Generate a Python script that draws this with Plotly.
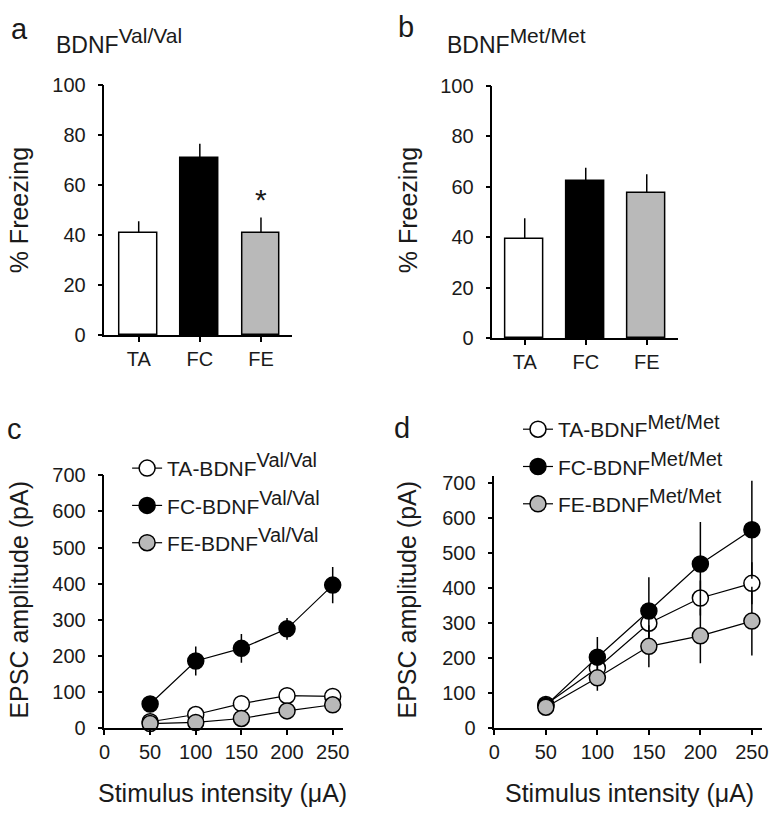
import plotly.graph_objects as go

# ---------------- data ----------------
groups = ["TA", "FC", "FE"]
val_freeze = [41, 71, 41]
val_freeze_sem = [4.5, 5.5, 6]
met_freeze = [39.5, 62.5, 57.5]
met_freeze_sem = [8, 5, 7.5]

stim = [50, 100, 150, 200, 250]
c_ta = [18, 38, 68, 90, 88]
c_ta_err = [5, 8, 10, 10, 8]
c_fc = [67, 186, 221, 275, 396]
c_fc_err = [15, 40, 40, 30, 50]
c_fe = [13, 16, 27, 48, 65]
c_fe_err = [5, 5, 8, 10, 10]

d_ta = [68, 172, 300, 372, 414]
d_ta_err = [10, 25, 40, 50, 60]
d_fc = [65, 203, 335, 469, 567]
d_fc_err = [12, 58, 96, 120, 140]
d_fe = [60, 144, 234, 264, 306]
d_fe_err = [10, 37, 60, 78, 98]

freeze_ticks = [0, 20, 40, 60, 80, 100]
epsc_ticks = [0, 100, 200, 300, 400, 500, 600, 700]
stim_ticks = [0, 50, 100, 150, 200, 250]

# ---------------- layout helpers ----------------
W, H = 779, 821
FONT = "Liberation Sans, Arial, sans-serif"
TXT = "#1a1a1a"
GRAY = "#b9b9b9"


def fx(p):
    return p / W


def fy(p):
    return 1 - p / H


def sup(s, size):
    return f"<sup><span style='font-size:{size}px'>{s}</span></sup>"


fig = go.Figure()

bar_colors = ["white", "black", GRAY]
for data, sem, xa, ya in [(val_freeze, val_freeze_sem, "x", "y"),
                          (met_freeze, met_freeze_sem, "x2", "y2")]:
    fig.add_trace(go.Bar(
        x=groups, y=data, width=0.62,
        marker=dict(color=bar_colors, line=dict(color="black", width=1.5)),
        error_y=dict(type="data", array=sem, arrayminus=[0] * len(sem),
                     symmetric=False, width=0, thickness=1.5, color="black"),
        xaxis=xa, yaxis=ya, showlegend=False))

series = [("TA", "white"), ("FC", "black"), ("FE", GRAY)]
for (mean_list, err_list, geno, xa, ya, leg) in [
    ([c_ta, c_fc, c_fe], [c_ta_err, c_fc_err, c_fe_err], "Val/Val", "x3", "y3", "legend"),
    ([d_ta, d_fc, d_fe], [d_ta_err, d_fc_err, d_fe_err], "Met/Met", "x4", "y4", "legend2"),
]:
    for (name, col), m, e in zip(series, mean_list, err_list):
        fig.add_trace(go.Scatter(
            x=stim, y=m, mode="lines+markers",
            name=f"{name}-BDNF{sup(geno, 20)}",
            line=dict(color="black", width=1.2),
            marker=dict(size=16, color=col, line=dict(color="black", width=1.5)),
            error_y=dict(type="data", array=e, width=0, thickness=1.5, color="black"),
            xaxis=xa, yaxis=ya, legend=leg, legendgroup=f"{leg}{name}",
            cliponaxis=False))

axis_common = dict(showline=True, linecolor="black", linewidth=1.5,
                   ticks="outside", ticklen=5, tickwidth=1.5, tickcolor="black",
                   showgrid=False, zeroline=False,
                   tickfont=dict(family=FONT, size=20, color=TXT))
yextra = dict(ticklabelstandoff=8)

fig.update_layout(
    width=W, height=H, margin=dict(l=0, r=0, t=0, b=0),
    paper_bgcolor="white", plot_bgcolor="white",
    font=dict(family=FONT, color=TXT),
    bargap=0,
    xaxis=dict(domain=[fx(100), fx(290)], range=[-0.56, 2.5], anchor="y", **axis_common),
    yaxis=dict(domain=[fy(333), fy(76)], range=[0, 100], tickvals=freeze_ticks, anchor="x", **axis_common, **yextra),
    xaxis2=dict(domain=[fx(494), fx(683)], range=[-0.53, 2.52], anchor="y2", **axis_common),
    yaxis2=dict(domain=[fy(336), fy(77)], range=[0, 100], tickvals=freeze_ticks, anchor="x2", **axis_common, **yextra),
    xaxis3=dict(domain=[fx(100), fx(342)], range=[0, 261], tickvals=stim_ticks, anchor="y3", **axis_common),
    yaxis3=dict(domain=[fy(737), fy(477)], range=[0, 700], tickvals=epsc_ticks, anchor="x3", **axis_common, **yextra),
    xaxis4=dict(domain=[fx(496), fx(768)], range=[0, 260], tickvals=stim_ticks, anchor="y4", **axis_common),
    yaxis4=dict(domain=[fy(737), fy(478)], range=[0, 720], tickvals=epsc_ticks, anchor="x4", **axis_common, **yextra),
    legend=dict(x=fx(123), y=fy(449), xanchor="left", yanchor="top",
                font=dict(family=FONT, size=21, color=TXT), bgcolor="rgba(0,0,0,0)",
                traceorder="grouped", tracegroupgap=7, itemsizing="trace"),
    legend2=dict(x=fx(520), y=fy(409), xanchor="left", yanchor="top",
                 font=dict(family=FONT, size=21, color=TXT), bgcolor="rgba(0,0,0,0)",
                 traceorder="grouped", tracegroupgap=7, itemsizing="trace"),
)

ann = []


def text(x, y, s, size, xanchor="center", yanchor="middle", angle=0):
    ann.append(dict(x=fx(x), y=fy(y), xref="paper", yref="paper", text=s,
                    showarrow=False, xanchor=xanchor, yanchor=yanchor,
                    textangle=angle, font=dict(family=FONT, size=size, color=TXT)))


# panel letters
text(14, 19, "a", 29)
text(406, 16, "b", 29)
text(9, 430, "c", 29)
text(402, 428, "d", 29)
# titles
text(49, 50, "BDNF" + sup("Val/Val", 21), 23, xanchor="left", yanchor="bottom")
text(446, 50, "BDNF" + sup("Met/Met", 21), 23, xanchor="left", yanchor="bottom")
# y titles
text(13, 205, "% Freezing", 25, angle=-90)
text(408, 205, "% Freezing", 25, angle=-90)
text(13, 605, "EPSC amplitude (pA)", 25, angle=-90)
text(407, 605, "EPSC amplitude (pA)", 25, angle=-90)
# x titles
text(220, 804, "Stimulus intensity (μA)", 25)
text(633, 804, "Stimulus intensity (μA)", 25)

# significance asterisk above FE bar
ann.append(dict(x="FE", y=val_freeze[2] + val_freeze_sem[2], xref="x", yref="y",
                text="*", showarrow=False, yanchor="bottom", yshift=0,
                font=dict(family=FONT, size=30, color=TXT)))

fig.update_layout(annotations=ann)
fig.write_html("out.html", config={"displayModeBar": False},
               post_script="document.body.style.margin='0';")
